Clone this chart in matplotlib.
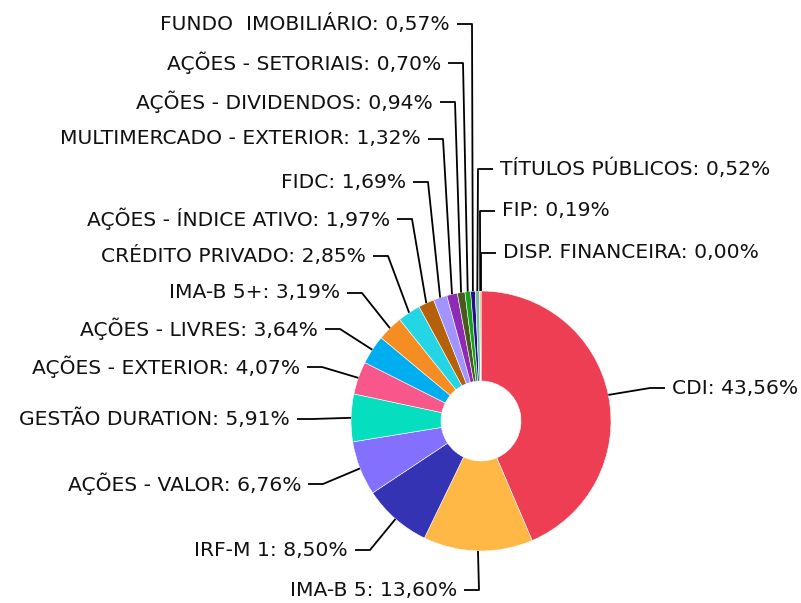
import matplotlib.pyplot as plt
import numpy as np

# Data
categories = ['CDI', 'IMA-B 5', 'IRF-M 1', 'AÇÕES - VALOR', 'GESTÃO DURATION',
              'AÇÕES - EXTERIOR', 'AÇÕES - LIVRES', 'IMA-B 5+', 'CRÉDITO PRIVADO',
              'AÇÕES - ÍNDICE ATIVO', 'FIDC', 'MULTIMERCADO - EXTERIOR',
              'AÇÕES - DIVIDENDOS', 'AÇÕES - SETORIAIS', 'FUNDO  IMOBILIÁRIO',
              'TÍTULOS PÚBLICOS', 'FIP', 'DISP. FINANCEIRA']
values = [43.56, 13.60, 8.50, 6.76, 5.91, 4.07, 3.64, 3.19, 2.85,
          1.97, 1.69, 1.32, 0.94, 0.70, 0.57, 0.52, 0.19, 0.00]
colors = ['#EE3E54', '#FFB845', '#3333B3', '#8470FF', '#05DFC0', '#F7578B',
          '#00AEEF', '#F68D23', '#25D5E5', '#B5600B', '#A194FF', '#8E2BB4',
          '#4B5A1C', '#10A41C', '#2E0A8A', '#6CC0A8', '#E8A040', '#888888']

# Label layout (elbow point of each leader line, in pixels)
elbow_x = [650, 479, 370, 323, 312, 322, 340, 362, 388, 412, 428, 443, 455, 463, 472, 478, 480, 481]
elbow_y = [388, 590, 550, 484, 419, 367, 329, 293, 256, 219, 182, 139, 102, 63, 24, 169, 211, 253]
right_side = ['CDI', 'TÍTULOS PÚBLICOS', 'FIP', 'DISP. FINANCEIRA']

fig = plt.figure(figsize=(8.01, 6.03), dpi=100)
ax = fig.add_axes([0, 0, 1, 1])

cx, cy, r = 481, 421, 130
wedges, _ = ax.pie(values, colors=colors, center=(cx, cy), radius=r,
                   startangle=-90, counterclock=True,
                   wedgeprops=dict(width=r - 40, edgecolor='white', linewidth=0.4))

ax.set_xlim(0, 801)
ax.set_ylim(603, 0)
ax.set_aspect('equal')
ax.axis('off')

# Leader lines and labels
for w, name, val, ex, ey in zip(wedges, categories, values, elbow_x, elbow_y):
    ang = np.deg2rad((w.theta1 + w.theta2) / 2)
    ax_x = cx + r * np.cos(ang)
    ax_y = cy + r * np.sin(ang)
    s = 1 if name in right_side else -1
    ax.plot([ax_x, ex, ex + s * 15], [ax_y, ey, ey], color='black', lw=1.3,
            solid_capstyle='butt', zorder=1)
    txt = f'{name}: ' + f'{val:.2f}'.replace('.', ',') + '%'
    ax.text(ex + s * 22, ey, txt, ha='left' if s > 0 else 'right', va='center',
            fontsize=14.6, color='#111111', family='DejaVu Sans')

fig.savefig('out.png', dpi=100)
